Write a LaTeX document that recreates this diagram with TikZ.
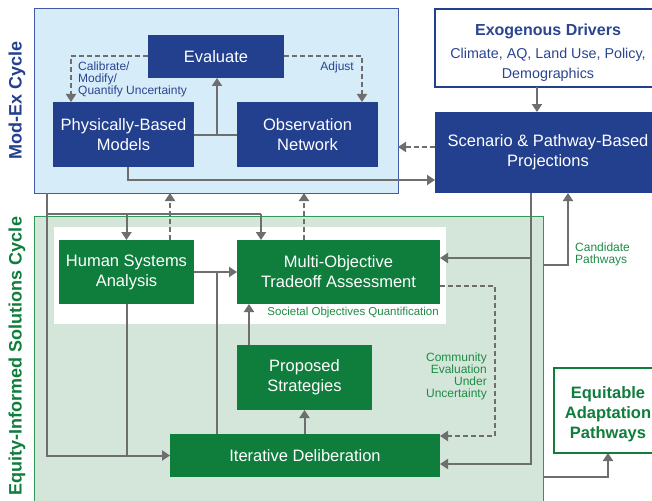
\documentclass[tikz,border=0pt]{standalone}
\usepackage{fontspec}
\setmainfont{Liberation Sans}
\usetikzlibrary{arrows.meta,positioning,calc}
\definecolor{navy}{HTML}{23408E}
\definecolor{leaf}{HTML}{0F7D3C}
\definecolor{skybg}{HTML}{D7ECF9}
\definecolor{skyrule}{HTML}{4159A8}
\definecolor{sagebg}{HTML}{D4E6DA}
\definecolor{sagerule}{HTML}{2F9A55}
\definecolor{wire}{HTML}{6E6E6E}
\definecolor{navytext}{HTML}{2B4591}
\definecolor{leaftext}{HTML}{1E8B45}
\newcommand{\subfnt}{\fontsize{14.3}{17}\selectfont}
\tikzset{
  box/.style={fill=navy,text=white,inner sep=0pt,outer sep=0pt,align=center,
    font=\fontsize{16.5}{20}\selectfont},
  boxg/.style={box,fill=leaf},
  boxw/.style={box,draw=navy,line width=1.2pt,fill=white,text=navytext},
  framea/.style={draw=skyrule,line width=1pt,fill=skybg,inner sep=0pt,outer sep=0pt},
  frameg/.style={framea,draw=sagerule,fill=sagebg},
  panel/.style={fill=white,inner sep=0pt,outer sep=0pt},
  cyc/.style={font=\fontsize{18}{22}\selectfont\bfseries,rotate=90,inner sep=0pt},
  link/.style={line width=2pt,draw=wire},
  flow/.style={link,-{Triangle[length=8pt,width=10pt]}},
  flowd/.style={flow,dash pattern=on 5pt off 3pt},
  lab/.style={font=\fontsize{12}{12}\selectfont,text=navytext,inner sep=1pt},
  labg/.style={lab,text=leaftext},
}

\begin{document}
\begin{tikzpicture}[x=1pt,y=-1pt]
  \useasboundingbox (0,0) rectangle (652,500);
  \clip (0,0) rectangle (652,500);
  % the two cycles
  \node[framea,minimum width=364pt,minimum height=184pt](modex) at (216,101){};
  \node[frameg,minimum width=509pt,minimum height=294pt](equity) at (288.5,363){};
  \node[panel,minimum width=392pt,minimum height=97pt](panel) at (250,275.5){};
  \node[cyc,text=navy] at (17,100){Mod-Ex Cycle};
  \node[cyc,text=leaf] at (17,356){Equity-Informed Solutions Cycle};

  % mod-ex boxes
  \node[box,minimum width=136pt,minimum height=43pt](eval) at (216,56.5){Evaluate};
  \node[box,minimum width=141pt,minimum height=65pt](models) at (123.5,134.5){Physically-Based\\Models};
  \node[box,minimum width=141pt,minimum height=65pt,right=43pt of models](obsnet){Observation\\Network};
  \node[boxw,minimum width=226pt,minimum height=78pt](exo) at (548,48)
    {\rule{0pt}{20pt}\fontsize{16}{19}\selectfont\bfseries Exogenous Drivers\\[3pt]
     \subfnt Climate, AQ, Land Use, Policy,\\\subfnt Demographics};
  \node[box,minimum width=226pt,minimum height=81pt,below=25pt of exo](scen){Scenario \& Pathway-Based\\Projections};

  % solutions boxes
  \node[boxg,minimum width=135pt,minimum height=64pt](hsa) at (126.5,272){Human Systems\\Analysis};
  \node[boxg,minimum width=203pt,minimum height=64pt](mota) at (338.5,272){Multi-Objective\\Tradeoff Assessment};
  \node[boxg,minimum width=135pt,minimum height=65pt](props) at (304.5,377.5){Proposed\\Strategies};
  \node[boxg,minimum width=270pt,minimum height=43pt](iter) at (305,455.5){Iterative Deliberation};
  \node[boxw,draw=leaf,line width=2pt,text=leaf,minimum width=108pt,minimum height=85pt](eap) at (608,410.5)
    {\rule{0pt}{20pt}\bfseries Equitable\\\bfseries Adaptation\\\bfseries Pathways};

  % mod-ex loop
  \coordinate (mj) at (217,134.5);
  \draw[link](models.east)--(obsnet.west);
  \draw[flow](mj)--(mj |- eval.south);
  \draw[flowd](eval.west)-|([xshift=18pt]models.north west);
  \draw[flowd](eval.east)-|([xshift=-16pt]obsnet.north east);
  \draw[flow]([xshift=4.5pt]models.south)|-([yshift=-27.5pt]scen.west);
  \coordinate (sw) at ([yshift=5.5pt]scen.west);
  \draw[flowd](sw)--(sw -| modex.east);
  \draw[flow]([xshift=-11pt]exo.south)--([xshift=-11pt]scen.north);
  \node[lab,anchor=west,align=left] at (77,79){Calibrate/\\Modify/\\Quantify Uncertainty};
  \node[lab,anchor=east] at (355,67){Adjust};

  % hand-off between the cycles
  \coordinate (lt) at ([xshift=13pt]modex.south west);
  \coordinate (tl) at (47,214);
  \coordinate (tr) at (261,214);
  \draw[flow](lt)|-(iter.west);
  \draw[link](tl)--(tr);
  \draw[flow](tr)--(tr |- mota.north);
  \draw[flow](tl -| hsa.north)--(hsa.north);
  \coordinate (hu) at ([xshift=-24pt]hsa.north east);
  \coordinate (mu) at ([xshift=-34.5pt]mota.north);
  \draw[flowd](hu)--(hu |- modex.south);
  \draw[flowd](mu)--(mu |- modex.south);

  % solutions loop
  \coordinate (ij) at (217,272);
  \draw[flow](hsa.east)--(mota.west);
  \draw[link](ij |- iter.north)--(ij);
  \draw[link](hsa.south)--(hsa.south |- iter.west);
  \coordinate (pu) at ([xshift=12pt]props.north west);
  \draw[flow](pu)--(pu |- mota.south);
  \draw[flow](props.south |- iter.north)--(props.south);
  \coordinate (ce) at (495,436);
  \draw[flowd]([yshift=-14pt]mota.east)-|(ce)--(ce -| iter.east);
  \node[labg,font=\fontsize{11.5}{12}\selectfont,anchor=east] at ([yshift=-9pt]mota.south east){Societal Objectives Quantification};
  \node[labg,anchor=east,align=right] at (488,376){Community\\Evaluation\\Under\\Uncertainty};

  % projections feeding back, and the way out
  \coordinate (sd) at ([xshift=-17pt]scen.south);
  \coordinate (mr) at ([yshift=14pt]mota.east);
  \draw[flow](sd)|-([yshift=-8.5pt]iter.east);
  \draw[flow](mr -| sd)--(mr);
  \coordinate (cp) at (543,265);
  \draw[flow](cp)-|([xshift=20pt]scen.south);
  \node[labg,anchor=west,align=left] at (574,254){Candidate\\Pathways};
  \coordinate (ea) at (543,477);
  \draw[flow](ea)-|(eap.south);
\end{tikzpicture}
\end{document}
